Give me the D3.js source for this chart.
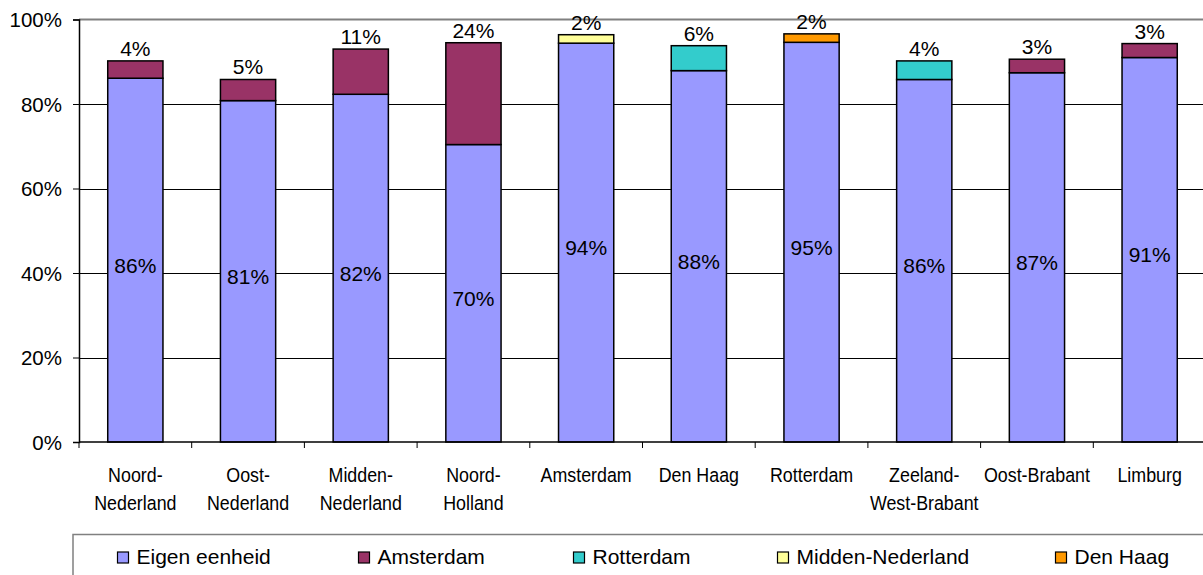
<!DOCTYPE html>
<html>
<head>
<meta charset="utf-8">
<script src="https://cdn.jsdelivr.net/npm/d3@7"></script>
<style>
  html, body { margin: 0; padding: 0; background: #fff; overflow: hidden; }
  svg { display: block; font-family: "Liberation Sans", Arial, sans-serif; }
</style>
</head>
<body>
<svg id="chart" width="1203" height="575"></svg>
<script>
// --- data (percentages) ---
const categories = [
    ['Noord-', 'Nederland'], ['Oost-', 'Nederland'], ['Midden-', 'Nederland'], ['Noord-', 'Holland'],
    ['Amsterdam'], ['Den Haag'], ['Rotterdam'], ['Zeeland-', 'West-Brabant'], ['Oost-Brabant'], ['Limburg']
];
const seriesNames = ['Eigen eenheid', 'Amsterdam', 'Rotterdam', 'Midden-Nederland', 'Den Haag'];
const eigenEenheid    = [86.1, 80.8, 82.3, 70.4, 94.4, 87.9, 94.6, 85.8, 87.4, 91.0];
const amsterdam       = [4.1, 5.0, 10.7, 24.1, 0, 0, 0, 0, 3.2, 3.3];
const rotterdam       = [0, 0, 0, 0, 0, 5.9, 0, 4.4, 0, 0];
const middenNederland = [0, 0, 0, 0, 2.0, 0, 0, 0, 0, 0];
const denHaag         = [0, 0, 0, 0, 0, 0, 2.0, 0, 0, 0];
const yTicks = [0, 20, 40, 60, 80, 100];

const colors = ['#9999ff', '#993366', '#33cccc', '#ffff99', '#ff9900'];

// --- layout ---
const plot = { left: 79, right: 1206, top: 19.5, bottom: 442 };
const legendBox = { x: 73, y: 534.5, w: 1160, h: 60 };
const legendX = [117, 358, 573, 777, 1055];

const svg = d3.select('#chart');

const rows = categories.map((c, i) => ({
    key: i,
    'Eigen eenheid': eigenEenheid[i],
    'Amsterdam': amsterdam[i],
    'Rotterdam': rotterdam[i],
    'Midden-Nederland': middenNederland[i],
    'Den Haag': denHaag[i]
}));

const x = d3.scaleBand()
    .domain(d3.range(categories.length))
    .range([plot.left, plot.right])
    .paddingInner(0.51)
    .paddingOuter(0.255);

const y = d3.scaleLinear().domain([0, 100]).range([plot.bottom, plot.top]);

const stacked = d3.stack().keys(seriesNames)(rows);

// gridlines
svg.append('g')
    .selectAll('line')
    .data(yTicks.filter(t => t > 0 && t < 100))
    .join('line')
    .attr('x1', plot.left).attr('x2', plot.right)
    .attr('y1', d => Math.round(y(d)) + 0.5).attr('y2', d => Math.round(y(d)) + 0.5)
    .attr('stroke', '#000').attr('stroke-width', 1);

// top border of plot area
svg.append('line')
    .attr('x1', plot.left).attr('x2', plot.right)
    .attr('y1', y(100)).attr('y2', y(100))
    .attr('stroke', '#808080').attr('stroke-width', 2);

// bars
svg.append('g')
    .selectAll('g')
    .data(stacked)
    .join('g')
    .attr('fill', (d, i) => colors[i])
    .selectAll('rect')
    .data(d => d.filter(s => s[1] - s[0] > 0))
    .join('rect')
    .attr('x', d => x(d.data.key))
    .attr('width', x.bandwidth())
    .attr('y', d => y(d[1]))
    .attr('height', d => y(d[0]) - y(d[1]))
    .attr('stroke', '#000')
    .attr('stroke-width', 1.5);

// y axis
const yAxis = svg.append('g')
    .attr('transform', `translate(${plot.left},0)`)
    .call(d3.axisLeft(y).tickValues(yTicks).tickFormat(d => d + '%').tickSize(6).tickPadding(11));
yAxis.select('.domain').attr('stroke', '#000').attr('stroke-width', 1.5);
yAxis.selectAll('.tick line').attr('stroke', '#000');
yAxis.selectAll('text')
    .attr('font-size', '20.5px')
    .attr('font-family', '"Liberation Sans", Arial, sans-serif')
    .attr('fill', '#000')
    .attr('dy', '0.36em');

// x axis line and ticks between categories
const xAxis = svg.append('g');
xAxis.append('line')
    .attr('x1', plot.left).attr('x2', plot.right)
    .attr('y1', plot.bottom).attr('y2', plot.bottom)
    .attr('stroke', '#000').attr('stroke-width', 1.5);
const step = x.step();
xAxis.selectAll('line.tk')
    .data(d3.range(categories.length + 1))
    .join('line')
    .attr('class', 'tk')
    .attr('x1', i => plot.left + i * step).attr('x2', i => plot.left + i * step)
    .attr('y1', plot.bottom).attr('y2', plot.bottom + 6)
    .attr('stroke', '#000');

// category labels (narrowed, like the original condensed face)
const catG = svg.append('g')
    .selectAll('text')
    .data(categories)
    .join('text')
    .attr('transform', (d, i) => `translate(${x(i) + x.bandwidth() / 2},482) scale(0.87,1)`)
    .attr('text-anchor', 'middle')
    .attr('font-size', '20.5px')
    .attr('fill', '#000');
catG.selectAll('tspan')
    .data(d => d)
    .join('tspan')
    .attr('x', 0)
    .attr('dy', (d, i) => i === 0 ? 0 : 28)
    .text(d => d);

// inner labels (Eigen eenheid)
svg.append('g')
    .selectAll('text')
    .data(stacked[0])
    .join('text')
    .attr('x', d => x(d.data.key) + x.bandwidth() / 2)
    .attr('y', d => (y(d[0]) + y(d[1])) / 2 + 5)
    .attr('dy', '0.36em')
    .attr('text-anchor', 'middle')
    .attr('font-size', '21px')
    .attr('fill', '#000')
    .text(d => Math.round(d[1] - d[0]) + '%');

// top labels (the second segment of each bar)
const topVals = rows.map((r, i) => {
    const v = amsterdam[i] + rotterdam[i] + middenNederland[i] + denHaag[i];
    return { key: i, v: v, top: eigenEenheid[i] + v };
});
svg.append('g')
    .selectAll('text')
    .data(topVals)
    .join('text')
    .attr('x', d => x(d.key) + x.bandwidth() / 2)
    .attr('y', d => y(d.top) - 5)
    .attr('text-anchor', 'middle')
    .attr('font-size', '21px')
    .attr('fill', '#000')
    .text(d => Math.round(d.v) + '%');

// legend
svg.append('rect')
    .attr('x', legendBox.x).attr('y', legendBox.y)
    .attr('width', legendBox.w).attr('height', legendBox.h)
    .attr('fill', '#fff').attr('stroke', '#808080').attr('stroke-width', 1.5);

const leg = svg.append('g')
    .selectAll('g')
    .data(seriesNames)
    .join('g')
    .attr('transform', (d, i) => `translate(${legendX[i]},0)`);
leg.append('rect')
    .attr('x', 0.5).attr('y', 552)
    .attr('width', 11).attr('height', 11)
    .attr('fill', (d, i) => colors[i])
    .attr('stroke', '#000').attr('stroke-width', 1.2);
leg.append('text')
    .attr('x', 19.5).attr('y', 563.5)
    .attr('font-size', '21px')
    .attr('fill', '#000')
    .text(d => d);
</script>
</body>
</html>
